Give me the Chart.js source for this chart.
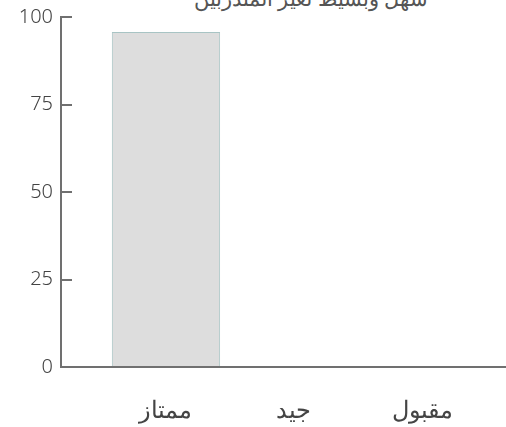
<!DOCTYPE html>
<html lang="ar">
<head>
<meta charset="utf-8">
<script src="https://cdn.jsdelivr.net/npm/chart.js@4"></script>
<style>
  html, body { margin: 0; padding: 0; background: #fff; overflow: hidden; }
  #wrap { position: relative; width: 506px; height: 427px; }
  #title { position: absolute; top: -16px; left: 0; width: 622px; text-align: center;
           font: 300 21px "Noto Sans", "DejaVu Sans", sans-serif; color: #555; direction: rtl; white-space: nowrap; }
  canvas { position: absolute; left: 0; top: 0; }
</style>
</head>
<body>
<div id="wrap">
  <div id="title">سهل وبسيط لغير المتدربين</div>
  <canvas id="c" width="506" height="427"></canvas>
</div>
<script>
const categories = ['ممتاز', 'جيد', 'مقبول'];
const values = [95.7, 0, 0];
const yTicks = [0, 25, 50, 75, 100];

const axisColor = '#707070';
const textColor = '#444';
const fontFamily = '"Noto Sans", "DejaVu Sans", sans-serif';

new Chart(document.getElementById('c'), {
  type: 'bar',
  data: {
    datasets: [{
      data: categories.map((c, i) => ({ x: i, y: values[i] })),
      backgroundColor: '#dddddd',
      borderColor: '#a8c4c4',
      borderWidth: 1,
      categoryPercentage: 0.94,
      barPercentage: 0.9
    }]
  },
  options: {
    responsive: false,
    animation: false,
    devicePixelRatio: 1,
    layout: { padding: { top: 17, right: 0, bottom: 0, left: 0 } },
    plugins: { legend: { display: false }, tooltip: { enabled: false }, title: { display: false } },
    scales: {
      x: {
        type: 'linear',
        offset: false,
        min: -0.82,
        max: 2.656,
        afterBuildTicks: s => { s.ticks = categories.map((c, i) => ({ value: i })); },
        afterFit: s => { s.height = 60; s.paddingLeft = 0; s.paddingRight = 0; },
        grid: { display: false, drawTicks: false },
        border: { display: true, color: axisColor, width: 2 },
        ticks: {
          padding: 30,
          color: textColor,
          font: { family: fontFamily, size: 24, weight: '300' },
          callback: v => categories[v] ?? '',
          maxRotation: 0,
          autoSkip: false
        }
      },
      y: {
        min: 0,
        max: 100,
        afterBuildTicks: s => { s.ticks = yTicks.map(v => ({ value: v })); },
        afterFit: s => { s.width = 61; s.paddingTop = 0; s.paddingBottom = 0; },
        grid: { drawOnChartArea: false, drawTicks: true, tickLength: -11, color: axisColor, lineWidth: 2 },
        border: { display: true, color: axisColor, width: 2 },
        ticks: {
          padding: 19,
          color: textColor,
          font: { family: fontFamily, size: 20, weight: '300' }
        }
      }
    }
  }
});
</script>
</body>
</html>
